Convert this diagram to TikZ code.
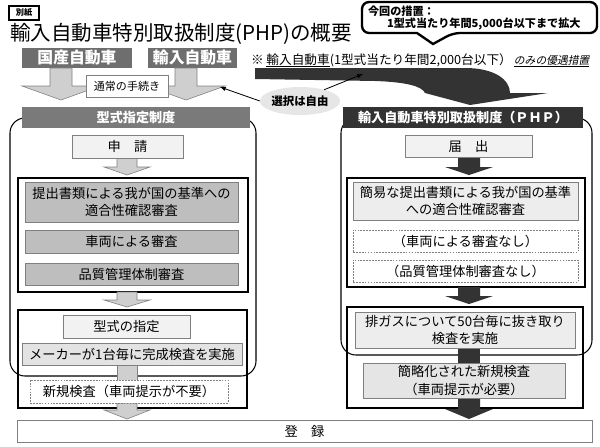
\documentclass[tikz,border=0pt]{standalone}
\usepackage{fontspec}
\setmainfont{Noto Sans CJK JP}
\newfontfamily\slantjp[FakeSlant=0.2]{Noto Sans CJK JP}
\usetikzlibrary{shapes.geometric}
\definecolor{hdrgray}{HTML}{7A7A7A}
\definecolor{cargray}{HTML}{6E6E6E}
\definecolor{phpdark}{HTML}{333333}
\definecolor{boxgray}{HTML}{BEBEBE}
\definecolor{edgegray}{HTML}{808080}
\definecolor{palefill}{HTML}{F2F2F2}
\definecolor{arrowfill}{HTML}{CFCFCF}
\definecolor{ovalfill}{HTML}{E6E6E6}
\newcommand\ulinejp[1]{\setbox0\hbox{#1}\rlap{\rule[-2.2pt]{\wd0}{0.7pt}}\box0}
\tikzset{
  wh/.style 2 args={minimum width=#1*0.03cm, minimum height=#2*0.03cm, anchor=north west},
  body/.style={font=\fontsize{11.3}{15}\selectfont},
  frame/.style={draw=edgegray, line width=0.6pt, body, align=center},
  palebox/.style={frame, fill=palefill},
  graybox/.style={frame, fill=boxgray},
  dashbox/.style={frame, fill=white, dash pattern=on 1.5pt off 1pt},
  carbox/.style={fill=cargray, text=white, font=\fontsize{13.5}{15}\selectfont\bfseries},
  hdrbox/.style={text=white, font=\fontsize{11.2}{13}\selectfont\bfseries},
  callfont/.style={font=\fontsize{9.5}{11}\selectfont\bfseries},
  blackbox/.style={draw=black, line width=1.5pt},
  panel/.style={draw=black, fill=white, line width=0.9pt, rounded corners=0.45cm},
  lightarrow/.style={fill=arrowfill, draw=edgegray, line width=0.5pt},
  darkarrow/.style={fill=phpdark}
}

\begin{document}
\begin{tikzpicture}[x=0.03cm, y=-0.03cm, every node/.style={inner sep=0pt, outer sep=0pt}]
\useasboundingbox (0,0) rectangle (600,446);

\node[draw, line width=1pt, wh={30}{14}, font=\fontsize{7}{8}\selectfont\bfseries] (bessi) at (9,6) {別紙};
\node[anchor=west, font=\fontsize{17.5}{20}\selectfont] (title) at (10,34) {輸入自動車特別取扱制度(PHP)の概要};
\draw[line width=2pt] (433,44) -- (417,33) [rounded corners=6pt] -- (362,33) -- (362,2) -- (597,2) -- (597,33) -- (453,33) [sharp corners] -- cycle;
\node[anchor=west, callfont] (cline1) at (368,11) {今回の措置：};
\node[anchor=west, callfont] (cline2) at (387,24) {1型式当たり年間5,000台以下まで拡大};
\node[anchor=west, font=\fontsize{10.8}{12}\selectfont] (note) at (251,60) {※ \ulinejp{輸入自動車}(1型式当たり年間2,000台以下）\,\ulinejp{\slantjp\fontsize{9.2}{12}\selectfont のみの優遇措置}};
\fill[phpdark] (255,68) -- (465,68) .. controls (495,68) and (510,80) .. (510,93) -- (548,93) -- (470,105) -- (425,93) .. controls (422,86) and (405,82) .. (375,81) -- (255,79) -- cycle;

\node[carbox, wh={110}{20}] (kokusan) at (22,48) {国産自動車};
\node[carbox, wh={89}{20}] (yunyu) at (148,48) {輸入自動車};
\foreach \cx in {61,186}
  \draw[lightarrow] (\cx-11,68) -- (\cx-11,86) -- (\cx-39,86) -- (\cx,100) -- (\cx+39,86) -- (\cx+11,86) -- (\cx+11,68) -- cycle;
\node[frame, fill=white, wh={82}{22}, font=\fontsize{9.4}{11}\selectfont] (tsujo) at (86,75) {通常の手続き};

\node[ellipse, fill=ovalfill, minimum width=80*0.03cm, minimum height=28*0.03cm, font=\fontsize{9.7}{11}\selectfont\bfseries] (sentaku) at (300,101) {選択は自由};
\coordinate (ptA) at (220,87);
\coordinate (ptB) at (363,74);
\draw[-latex, line width=0.7pt] (sentaku.west) -- (ptA);
\draw[-latex, line width=0.7pt] (sentaku.25) -- (ptB);

\draw[panel] (10,118) rectangle (256,376);
\draw[panel] (341,118) rectangle (592,355);
\node[hdrbox, fill=hdrgray, wh={228}{21}] (katashiki) at (22,107) {型式指定制度};
\node[hdrbox, fill=phpdark, wh={240}{21}] (php) at (343,107) {輸入自動車特別取扱制度（ＰＨＰ）};

\draw[blackbox] (18,178) rectangle (248,292);
\draw[blackbox] (18,310) rectangle (247,408);
\draw[blackbox] (347,178) rectangle (585,287);
\draw[blackbox] (347,307) rectangle (583,408);

\foreach \cx/\ta/\tb/\tc in {127/158/167/175, 127/292/300/307, 127/403/410/419}
  \draw[lightarrow] (\cx-10,\ta) -- (\cx-10,\tb) -- (\cx-23,\tb) -- (\cx,\tc) -- (\cx+23,\tb) -- (\cx+10,\tb) -- (\cx+10,\ta) -- cycle;
\draw[lightarrow] (117,365) rectangle (137,380);
\foreach \cx/\ta/\tb/\tc in {469/157/167/175, 469/287/296/304, 469/398/409/419}
  \fill[darkarrow] (\cx-11,\ta) -- (\cx-11,\tb) -- (\cx-24,\tb) -- (\cx,\tc) -- (\cx+24,\tb) -- (\cx+11,\tb) -- (\cx+11,\ta) -- cycle;
\fill[darkarrow] (458,348) rectangle (480,363);

\node[palebox, wh={111}{23}] (shinsei) at (72,135) {申　請};
\node[graybox, wh={213}{40}] (kakunin) at (25,182) {提出書類による我が国の基準への\\適合性確認審査};
\node[graybox, wh={213}{23}] (sharyo) at (25,230) {車両による審査};
\node[graybox, wh={213}{22}] (hinshitsu) at (25,263) {品質管理体制審査};
\node[palebox, wh={127}{23}] (shitei) at (63,315) {型式の指定};
\node[frame, fill=black!11, wh={220}{22}] (kansei) at (22,343) {メーカーが1台毎に完成検査を実施};
\node[dashbox, wh={198}{23}] (shinki) at (30,380) {新規検査（車両提示が不要）};

\node[palebox, wh={127}{22}] (todokede) at (405,135) {届　出};
\node[frame, fill=black!7, wh={225}{38}] (kani) at (353,182) {簡易な提出書類による我が国の基準\\への適合性確認審査};
\node[dashbox, wh={225}{22}] (nashiA) at (353,230) {（車両による審査なし）};
\node[dashbox, wh={225}{22}] (nashiB) at (353,260) {（品質管理体制審査なし）};
\node[frame, fill=black!7, wh={220}{36}] (haigas) at (355,312) {排ガスについて50台毎に抜き取り\\検査を実施};
\node[frame, fill=black!10, wh={202}{35}] (kanryaku) at (363,363) {簡略化された新規検査\\（車両提示が必要）};

\node[frame, fill=white, wh={575}{22}] (toroku) at (17,420) {登　録};
\end{tikzpicture}
\end{document}
